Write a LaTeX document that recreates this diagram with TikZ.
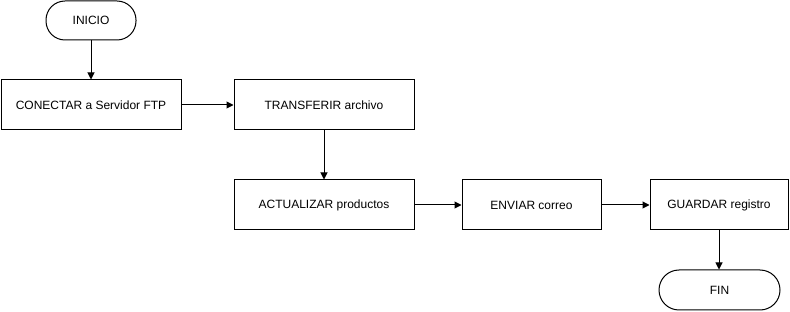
\documentclass[tikz,border=0pt]{standalone}
\usepackage{fontspec}
\setmainfont{Liberation Sans}
\usetikzlibrary{arrows.meta}
\tikzset{
  caja/.style={draw,line width=1pt,minimum width=180pt,minimum height=50pt,font=\fontsize{12}{14}\selectfont},
  terminal/.style={draw,line width=1pt,rounded corners=19pt,minimum width=90pt,minimum height=39pt,font=\fontsize{12}{14}\selectfont},
  flecha/.style={line width=1pt,-{Triangle[length=7pt,width=7pt]}}
}
\begin{document}
\begin{tikzpicture}[x=1pt,y=-1pt]
\useasboundingbox (0,0) rectangle (790,312);
\node[terminal] (inicio) at (91,20.5) {INICIO};
\node[caja] (conectar) at (91,105) {CONECTAR a Servidor FTP};
\node[caja] (transferir) at (324,105) {TRANSFERIR archivo};
\node[caja] (actualizar) at (324,205) {ACTUALIZAR productos};
\node[caja,minimum width=139pt] (enviar) at (531.5,205) {ENVIAR correo};
\node[caja,minimum width=138pt] (guardar) at (719,205) {GUARDAR registro};
\node[terminal,minimum width=121pt,minimum height=40pt,rounded corners=20pt] (fin) at (719.5,290) {FIN};
\draw[flecha] (inicio) -- (conectar);
\draw[flecha] (conectar) -- (transferir);
\draw[flecha] (transferir) -- (actualizar);
\draw[flecha] (actualizar) -- (enviar);
\draw[flecha] (enviar) -- (guardar);
\draw[flecha] (guardar.south) -- (guardar.south |- fin.north);
\end{tikzpicture}
\end{document}
